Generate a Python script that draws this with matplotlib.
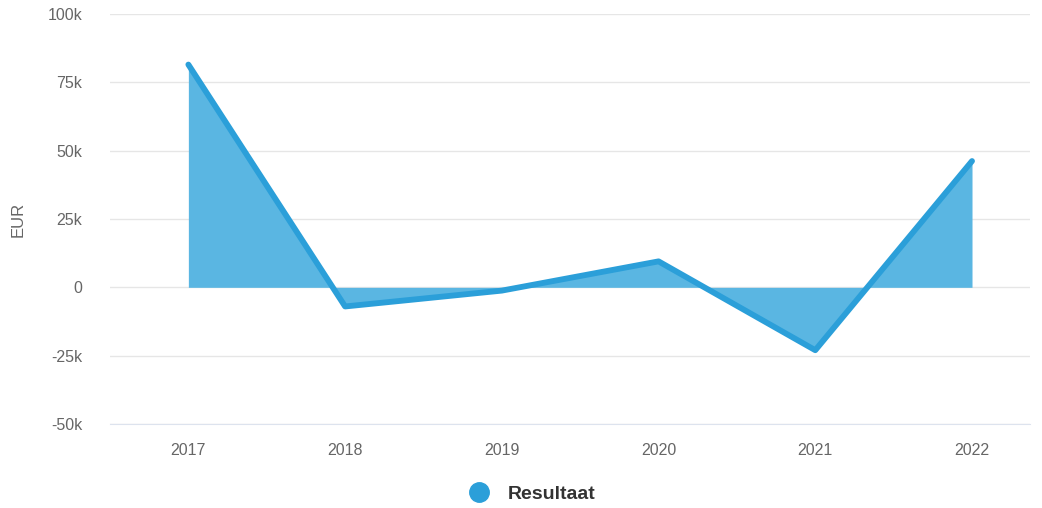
import numpy as np
import matplotlib
matplotlib.use('Agg')
import matplotlib.pyplot as plt
from matplotlib.lines import Line2D

plt.rcParams['font.family'] = ['Liberation Sans', 'DejaVu Sans']

years = ['2017', '2018', '2019', '2020', '2021', '2022']
resultaat = [81500, -7000, -1200, 9500, -23000, 46200]
y_ticks = [-50000, -25000, 0, 25000, 50000, 75000, 100000]
y_labels = ['-50k', '-25k', '0', '25k', '50k', '75k', '100k']

line_color = '#2b9fd9'
fill_color = '#5ab6e2'

fig = plt.figure(figsize=(10.42, 5.08), dpi=100)
ax = fig.add_axes([110 / 1042, 1 - 424 / 508, 920 / 1042, 410 / 508])

x = np.arange(len(years))
vals = np.array(resultaat, dtype=float)
ax.fill_between(x, vals, 0, color=fill_color, linewidth=0, interpolate=True, zorder=2)
ax.plot(x, vals, color=line_color, lw=4.2, solid_joinstyle='round',
        solid_capstyle='round', zorder=3)

ax.set_xlim(-0.5, len(years) - 1 + 0.37)
ax.set_ylim(-50000, 100000)
ax.set_yticks(y_ticks)
ax.set_yticklabels(y_labels)
ax.set_xticks(x)
ax.set_xticklabels(years)
ax.grid(axis='y', color='#e6e6e6', lw=1, zorder=0)
ax.set_axisbelow(True)
for s in ['top', 'right', 'left']:
    ax.spines[s].set_visible(False)
ax.spines['bottom'].set_color('#dde3ee')
ax.tick_params(axis='both', length=0, labelsize=11.5, labelcolor='#666666')
ax.tick_params(axis='x', pad=14)
ax.tick_params(axis='y', pad=20)
ax.set_ylabel('EUR', color='#666666', fontsize=12, labelpad=16)

handle = Line2D([], [], marker='o', color='none', markerfacecolor=line_color,
                markeredgecolor=line_color, markersize=14)
leg = fig.legend([handle], ['Resultaat'], loc='center', bbox_to_anchor=(0.506, 1 - 494 / 508),
                 frameon=False, handletextpad=0.5, prop={'weight': 'bold', 'size': 14})
for t in leg.get_texts():
    t.set_color('#333333')

fig.savefig('out.png', dpi=100)
